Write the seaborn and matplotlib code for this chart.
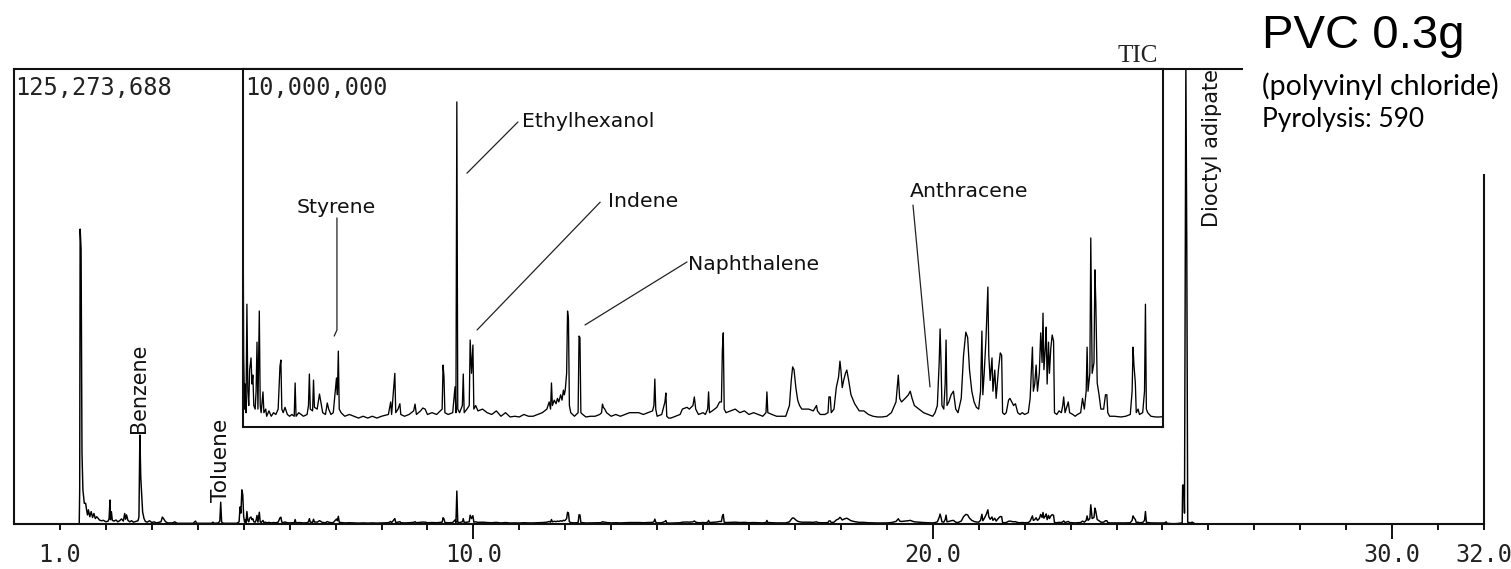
import matplotlib
matplotlib.use("Agg")
import matplotlib.pyplot as plt
from matplotlib.patches import Rectangle
import pandas as pd
import seaborn as sns

# ---------------- data (retention time [min], TIC intensity [million counts]) ----------------
trace_early = [
    (1.42, 0.0), (1.43, 9.4), (1.44, 81.2), (1.46, 75.7), (1.48, 19.5), (1.50, 9.4), (1.53, 5.7),
    (1.56, 5.7), (1.58, 3.9), (1.60, 2.5), (1.62, 3.9), (1.65, 2.0), (1.68, 3.4), (1.71, 1.8),
    (1.74, 2.9), (1.77, 1.5), (1.80, 2.0), (1.83, 1.6), (1.86, 1.1), (1.90, 0.9), (1.95, 1.0),
    (2.00, 0.6), (2.05, 0.8), (2.07, 1.5), (2.09, 6.6), (2.10, 1.2), (2.12, 3.4), (2.14, 1.0),
    (2.18, 0.8), (2.22, 1.1), (2.26, 0.6), (2.30, 0.9), (2.34, 1.4), (2.38, 0.8), (2.41, 2.9),
    (2.43, 1.3), (2.45, 2.5), (2.48, 1.0), (2.52, 0.6), (2.56, 0.9), (2.60, 0.5), (2.65, 0.7),
    (2.70, 0.9), (2.72, 2.0), (2.74, 24.5), (2.76, 12.7), (2.78, 8.0), (2.80, 3.3), (2.83, 1.5),
    (2.86, 0.7), (2.90, 0.5), (2.95, 0.9), (3.00, 0.4), (3.05, 0.6), (3.10, 0.3), (3.20, 0.6),
    (3.23, 1.9), (3.26, 1.4), (3.30, 0.6), (3.35, 0.3), (3.45, 0.3), (3.50, 0.6), (3.55, 0.2),
    (3.70, 0.2), (3.90, 0.2), (3.95, 0.8), (3.98, 0.2), (4.10, 0.2), (4.30, 0.2), (4.33, 0.5),
    (4.36, 0.2), (4.45, 0.3), (4.48, 0.8), (4.50, 6.0), (4.52, 0.5), (4.56, 0.2), (4.70, 0.2),
    (4.85, 0.2), (4.90, 0.6), (4.92, 4.7), (4.94, 3.0), (4.96, 9.4), (4.98, 8.0),
]
trace_5_12 = [
    (5.00, 2.0), (5.02, 0.5), (5.03, 1.2), (5.05, 0.4), (5.07, 3.43), (5.09, 1.0), (5.11, 0.6),
    (5.13, 1.6), (5.16, 1.93), (5.18, 1.2), (5.20, 1.45), (5.22, 0.6), (5.25, 0.5), (5.27, 1.0),
    (5.29, 2.37), (5.31, 0.5), (5.34, 3.24), (5.36, 0.6), (5.38, 0.4), (5.42, 0.98), (5.44, 0.4),
    (5.48, 0.5), (5.50, 0.3), (5.55, 0.45), (5.60, 0.3), (5.65, 0.4), (5.70, 0.35), (5.75, 0.5),
    (5.79, 1.7), (5.81, 1.87), (5.83, 0.5), (5.86, 0.4), (5.90, 0.55), (5.95, 0.35), (6.00, 0.3),
    (6.05, 0.35), (6.10, 0.3), (6.12, 1.23), (6.14, 0.3), (6.20, 0.4), (6.30, 0.3), (6.38, 0.35),
    (6.41, 0.6), (6.43, 1.48), (6.45, 0.5), (6.50, 0.45), (6.52, 1.31), (6.54, 0.55), (6.60, 0.5),
    (6.65, 0.92), (6.68, 0.7), (6.72, 0.4), (6.78, 0.35), (6.82, 0.67), (6.85, 0.5), (6.90, 0.35),
    (6.95, 0.4), (7.02, 1.37), (7.04, 0.9), (7.06, 2.12), (7.08, 0.5), (7.12, 0.4), (7.20, 0.3),
    (7.30, 0.35), (7.40, 0.3), (7.50, 0.25), (7.60, 0.3), (7.70, 0.25), (7.80, 0.3), (7.90, 0.25),
    (8.00, 0.3), (8.15, 0.35), (8.20, 0.7), (8.22, 0.35), (8.27, 1.2), (8.29, 1.5), (8.31, 0.4),
    (8.36, 0.5), (8.40, 0.65), (8.42, 0.35), (8.50, 0.3), (8.60, 0.35), (8.70, 0.45), (8.73, 0.64),
    (8.76, 0.35), (8.85, 0.45), (8.90, 0.53), (8.95, 0.5), (9.00, 0.35), (9.10, 0.4), (9.20, 0.35),
    (9.32, 0.5), (9.34, 1.73), (9.36, 1.4), (9.38, 0.4), (9.45, 0.35), (9.55, 0.4), (9.60, 1.12),
    (9.62, 0.4), (9.64, 9.08), (9.66, 0.5), (9.70, 0.4), (9.76, 0.6), (9.78, 1.48), (9.80, 0.4),
    (9.86, 0.5), (9.91, 0.6), (9.93, 2.43), (9.96, 1.5), (9.99, 2.29), (10.01, 0.5), (10.05, 0.6),
    (10.10, 0.45), (10.20, 0.5), (10.30, 0.4), (10.40, 0.35), (10.50, 0.45), (10.60, 0.3),
    (10.70, 0.4), (10.80, 0.28), (10.90, 0.3), (11.00, 0.28), (11.10, 0.35), (11.20, 0.3),
    (11.30, 0.3), (11.40, 0.35), (11.50, 0.4), (11.60, 0.5), (11.65, 0.7), (11.68, 0.5),
    (11.70, 1.23), (11.72, 0.6), (11.76, 0.75), (11.80, 0.65), (11.83, 0.8), (11.86, 0.7),
    (11.90, 0.9), (11.93, 0.75), (11.96, 1.03), (11.98, 0.9),
]
trace_12_20 = [
    (12.00, 1.03), (12.03, 1.5), (12.05, 3.24), (12.07, 3.0), (12.09, 0.6), (12.12, 0.4),
    (12.16, 0.35), (12.20, 0.3), (12.28, 0.4), (12.30, 2.54), (12.32, 2.5), (12.34, 0.4),
    (12.38, 0.35), (12.45, 0.28), (12.55, 0.3), (12.65, 0.3), (12.75, 0.35), (12.79, 0.4),
    (12.81, 0.64), (12.83, 0.55), (12.86, 0.5), (12.90, 0.4), (13.00, 0.3), (13.10, 0.35),
    (13.20, 0.3), (13.30, 0.35), (13.40, 0.4), (13.50, 0.4), (13.60, 0.4), (13.70, 0.35),
    (13.80, 0.4), (13.90, 0.45), (13.93, 0.6), (13.95, 1.34), (13.97, 0.5), (14.00, 0.3),
    (14.10, 0.35), (14.17, 0.7), (14.19, 0.95), (14.21, 0.3), (14.25, 0.25), (14.30, 0.25),
    (14.40, 0.3), (14.50, 0.35), (14.55, 0.5), (14.65, 0.55), (14.70, 0.5), (14.78, 0.6),
    (14.81, 0.84), (14.84, 0.5), (14.90, 0.35), (15.00, 0.4), (15.05, 0.35), (15.10, 0.5),
    (15.12, 0.98), (15.14, 0.4), (15.20, 0.45), (15.30, 0.55), (15.36, 0.7), (15.40, 0.7),
    (15.42, 2.15), (15.44, 2.63), (15.46, 0.5), (15.50, 0.4), (15.60, 0.45), (15.70, 0.5),
    (15.80, 0.4), (15.90, 0.45), (16.00, 0.35), (16.10, 0.4), (16.20, 0.35), (16.30, 0.3),
    (16.37, 0.4), (16.39, 0.98), (16.41, 0.4), (16.50, 0.35), (16.60, 0.3), (16.70, 0.3),
    (16.80, 0.3), (16.88, 0.6), (16.92, 1.3), (16.95, 1.68), (16.98, 1.6), (17.02, 1.1),
    (17.06, 0.75), (17.10, 0.6), (17.15, 0.5), (17.20, 0.5), (17.30, 0.5), (17.40, 0.45),
    (17.47, 0.6), (17.49, 0.45), (17.55, 0.35), (17.65, 0.35), (17.72, 0.4), (17.74, 0.84),
    (17.77, 0.84), (17.79, 0.4), (17.85, 0.5), (17.90, 1.1), (17.95, 1.4), (17.98, 1.84),
    (18.00, 1.6), (18.03, 1.1), (18.06, 1.3), (18.10, 1.5), (18.13, 1.59), (18.17, 1.3),
    (18.22, 0.9), (18.30, 0.65), (18.40, 0.45), (18.50, 0.45), (18.60, 0.35), (18.70, 0.3),
    (18.80, 0.28), (18.90, 0.28), (19.00, 0.3), (19.10, 0.4), (19.20, 0.7), (19.25, 1.45),
    (19.28, 0.8), (19.32, 0.7), (19.40, 0.8), (19.47, 0.9), (19.51, 1.0), (19.55, 0.8),
    (19.60, 0.6), (19.70, 0.5), (19.80, 0.4), (19.90, 0.35),
]
trace_20_25 = [
    (20.00, 0.3), (20.05, 0.4), (20.10, 0.6), (20.14, 1.8), (20.16, 2.74), (20.18, 1.8),
    (20.20, 0.6), (20.24, 0.5), (20.27, 1.2), (20.29, 2.43), (20.31, 0.6), (20.35, 0.7),
    (20.40, 0.9), (20.45, 1.0), (20.50, 0.5), (20.55, 0.4), (20.62, 0.8), (20.67, 2.0),
    (20.72, 2.65), (20.76, 2.5), (20.80, 1.6), (20.85, 1.0), (20.90, 0.7), (20.95, 0.55),
    (21.00, 0.5), (21.04, 1.0), (21.07, 2.68), (21.09, 0.9), (21.12, 1.5), (21.16, 2.5),
    (21.20, 3.91), (21.22, 2.0), (21.25, 1.3), (21.29, 1.93), (21.31, 1.0), (21.35, 1.59),
    (21.38, 0.8), (21.43, 1.6), (21.47, 2.07), (21.50, 2.0), (21.52, 0.4), (21.56, 0.35),
    (21.60, 0.4), (21.65, 0.75), (21.68, 0.8), (21.72, 0.7), (21.76, 0.6), (21.80, 0.65),
    (21.85, 0.4), (21.90, 0.35), (21.95, 0.4), (22.00, 0.35), (22.08, 0.4), (22.12, 0.8),
    (22.17, 2.23), (22.19, 1.0), (22.22, 1.2), (22.25, 1.73), (22.28, 1.0), (22.32, 1.5),
    (22.35, 2.63), (22.38, 1.8), (22.40, 3.18), (22.42, 1.6), (22.45, 2.2), (22.47, 2.79),
    (22.49, 1.2), (22.52, 2.37), (22.54, 1.5), (22.57, 2.2), (22.60, 2.57), (22.63, 2.4),
    (22.65, 0.4), (22.70, 0.35), (22.75, 0.45), (22.80, 0.4), (22.83, 0.6), (22.85, 0.84),
    (22.88, 0.4), (22.95, 0.7), (22.98, 0.4), (23.05, 0.35), (23.10, 0.3), (23.15, 0.35),
    (23.22, 0.4), (23.26, 0.8), (23.30, 0.5), (23.34, 1.0), (23.36, 2.23), (23.38, 1.0),
    (23.42, 1.5), (23.44, 5.28), (23.47, 1.5), (23.51, 1.8), (23.53, 4.39), (23.55, 3.46),
    (23.58, 1.23), (23.62, 0.9), (23.66, 0.5), (23.72, 0.5), (23.76, 0.9), (23.79, 0.9),
    (23.81, 0.4), (23.85, 0.3), (23.95, 0.3), (24.10, 0.28), (24.20, 0.3), (24.30, 0.35),
    (24.34, 1.0), (24.36, 2.23), (24.38, 1.73), (24.41, 1.23), (24.43, 0.4), (24.47, 0.5),
    (24.50, 0.35), (24.57, 0.4), (24.61, 1.0), (24.63, 3.43), (24.65, 0.5), (24.68, 0.4),
    (24.75, 0.3), (24.85, 0.28), (24.95, 0.28),
]
trace_late = [
    (25.05, 0.3), (25.08, 0.6), (25.10, 0.2), (25.20, 0.1), (25.30, 0.1), (25.43, 0.3),
    (25.44, 10.7), (25.47, 10.7), (25.48, 3.0), (25.51, 125.27), (25.53, 76.3), (25.55, 0.5),
    (25.60, 0.3), (25.65, 0.5), (25.70, 0.1), (26.00, 0.0),
]

full_scale = 125.273688     # million counts, main panel
inset_scale = 10.0          # million counts, magnified panel
x_max = 32.0
tick_pos = [1, 10, 20, 30, 32]
tick_text = ["1.0", "10.0", "20.0", "30.0", "32.0"]
scale_labels = ["125,273,688", "10,000,000"]
inset_names = ["Styrene", "Ethylhexanol", "Indene", "Naphthalene", "Anthracene"]
main_names = ["Benzene", "Toluene", "Dioctyl adipate"]

rows = []
for seg in (trace_early, trace_5_12, trace_12_20, trace_20_25, trace_late):
    rows.extend(seg)
df = pd.DataFrame(rows, columns=["time", "intensity"])

# ---------------- figure ----------------
W, H = 1511, 569
sns.set_theme(style="white")
plt.rcParams["font.family"] = ["DejaVu Sans"]
fig = plt.figure(figsize=(W / 100, H / 100), dpi=100)
fig.patch.set_facecolor("white")


def fx(x):
    return x / W


def fy(y):
    return 1 - y / H


L, R, T, B = 14, 1484, 69, 524
ax = fig.add_axes([fx(L), fy(B), (R - L) / W, (B - T) / H])
ax.set_facecolor("white")
sns.lineplot(data=df, x="time", y="intensity", ax=ax, color="black", linewidth=1.05,
             estimator=None, sort=False)
ax.set_xlim(0, x_max)
ax.set_ylim(0, full_scale)
ax.set_xlabel("")
ax.set_ylabel("")
ax.set_yticks([])
for s in ax.spines.values():
    s.set_visible(True)
    s.set_color("#111111")
    s.set_linewidth(1.5)
ax.set_xticks(tick_pos)
ax.set_xticklabels(tick_text, family="DejaVu Sans Mono", fontsize=17, color="#222222")
ax.set_xticks(range(1, 33), minor=True)
ax.tick_params(axis="x", which="major", direction="out", length=10.8, width=1.4,
               color="#111111", pad=3, bottom=True)
ax.tick_params(axis="x", which="minor", direction="out", length=4.3, width=1.4,
               color="#111111", bottom=True)
for tk, pos in zip(ax.xaxis.get_major_ticks(), tick_pos):
    if pos in (1, 32):
        tk.tick1line.set_markersize(4.3)

# ---------------- inset (magnified) ----------------
x0 = (243 - L) / (R - L)
x1 = (1163 - L) / (R - L)
y0 = (B - 427) / (B - T)
axi = ax.inset_axes([x0, y0, x1 - x0, 1 - y0])
axi.set_facecolor("white")
sns.lineplot(data=df, x="time", y="intensity", ax=axi, color="black", linewidth=0.95,
             estimator=None, sort=False)
axi.set_xlim(x0 * x_max, x1 * x_max)
axi.set_ylim(0, inset_scale)
axi.set_xticks([])
axi.set_yticks([])
axi.set_xlabel("")
axi.set_ylabel("")
for s in axi.spines.values():
    s.set_visible(True)
    s.set_color("#111111")
    s.set_linewidth(1.5)

# leader lines (inset data coordinates)
leaders = [
    [(7.03, 5.84), (7.03, 2.71), (6.97, 2.54)],
    [(9.86, 7.09), (10.97, 8.52)],
    [(10.08, 2.71), (12.76, 6.28)],
    [(12.43, 2.85), (14.65, 4.61)],
    [(19.57, 6.20), (19.94, 1.12)],
]
for pts in leaders:
    xs, ys = zip(*pts)
    axi.plot(xs, ys, color="#222222", linewidth=0.9)

# ---------------- texts ----------------
inset_pos = [(297, 213), (522, 127), (608, 207), (688, 270), (910, 197)]
for name, (px, py) in zip(inset_names, inset_pos):
    fig.text(fx(px), fy(py), name, ha="left", va="baseline",
             family="DejaVu Sans", fontsize=14.7, color="#111111")

main_pos = [(139, 433), (221, 502), (1212, 227)]
main_sizes = [14.9, 15.6, 15.0]
for name, (px, py), fs in zip(main_names, main_pos, main_sizes):
    fig.text(fx(px), fy(py), name, ha="center", va="bottom", rotation=90,
             family="DejaVu Sans", fontsize=fs, color="#111111")

fig.text(fx(15), fy(95), scale_labels[0], ha="left", va="baseline",
         family="DejaVu Sans Mono", fontsize=17, color="#222222")
fig.text(fx(245), fy(95), scale_labels[1], ha="left", va="baseline",
         family="DejaVu Sans Mono", fontsize=17, color="#222222")
fig.text(fx(1138), fy(62), "TIC", ha="center", va="baseline",
         family="Liberation Serif", fontsize=18, color="#222222")

# white box holding the sample note (covers the frame corner as in the source)
fig.add_artist(Rectangle((fx(1243), fy(174)), 1 - fx(1243), fy(0) - fy(174),
                         transform=fig.transFigure, facecolor="white",
                         edgecolor="none", zorder=5))
fig.text(fx(1262), fy(48), "PVC 0.3g", ha="left", va="baseline",
         family="Liberation Sans", fontsize=34, color="black", zorder=6)
fig.text(fx(1262), fy(95), "(polyvinyl chloride)", ha="left", va="baseline",
         family="Lato", fontsize=20.5, color="black", zorder=6)
fig.text(fx(1262), fy(127), "Pyrolysis: 590", ha="left", va="baseline",
         family="Lato", fontsize=19, color="black", zorder=6)

fig.savefig("out.png", dpi=100, facecolor="white")
